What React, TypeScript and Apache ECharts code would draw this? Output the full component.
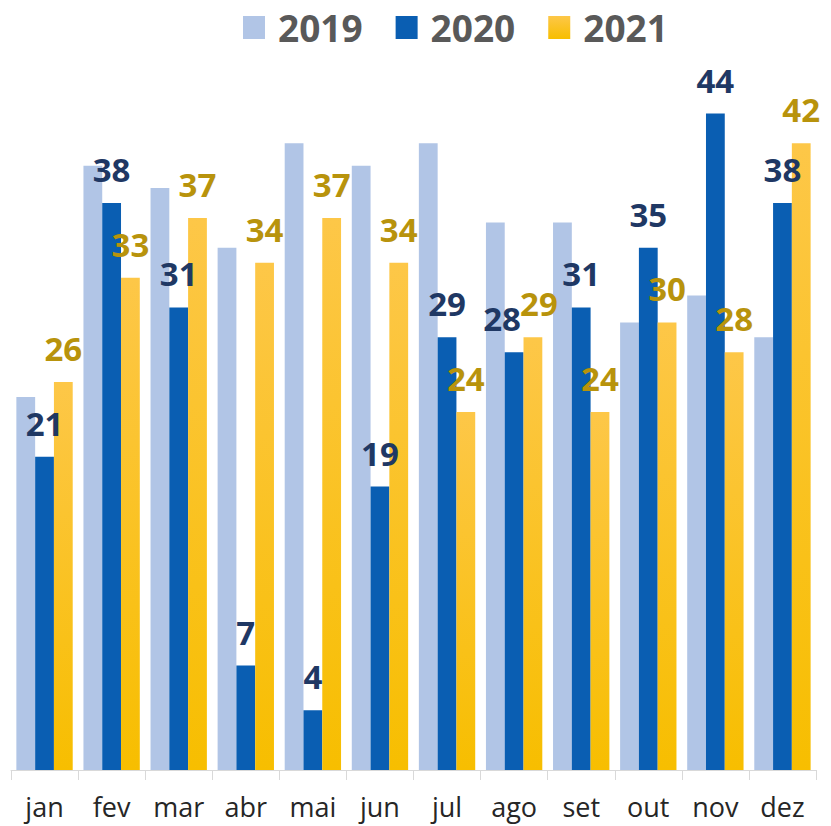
import React, { useEffect, useRef } from "react";
import * as echarts from "echarts";

const months = ["jan", "fev", "mar", "abr", "mai", "jun", "jul", "ago", "set", "out", "nov", "dez"];
const seriesNames = ["2019", "2020", "2021"];
const values2019 = [25, 40.5, 39, 35, 42, 40.5, 42, 36.7, 36.7, 30, 31.8, 29];
const values2020 = [21, 38, 31, 7, 4, 19, 29, 28, 31, 35, 44, 38];
const values2021 = [26, 33, 37, 34, 37, 34, 24, 29, 24, 30, 28, 42];

const FONT = "'Open Sans', 'Noto Sans', sans-serif";

export default function App() {
  const ref = useRef<HTMLDivElement>(null);

  useEffect(() => {
    if (!ref.current) return;
    const chart = echarts.init(ref.current, undefined, { renderer: "svg" });

    const gold = new echarts.graphic.LinearGradient(0, 0, 0, 1, [
      { offset: 0, color: "#FDC748" },
      { offset: 1, color: "#F7BE00" },
    ]);

    const labelStyle = (color: string) => ({
      show: true,
      position: "top" as const,
      distance: 17,
      color,
      fontFamily: FONT,
      fontWeight: "bold" as const,
      fontSize: 33,
    });

    // small manual nudges of a few labels, as in the original
    const data2020 = values2020.map((v, i) =>
      i === 7 ? { value: v, label: { offset: [-12, 0] } } : v
    );
    const data2021 = values2021.map((v, i) =>
      i === 7 ? { value: v, label: { offset: [6, 0] } } : v
    );

    chart.setOption({
      animation: false,
      backgroundColor: "#ffffff",
      legend: {
        data: seriesNames,
        left: 238,
        top: 4,
        itemWidth: 22,
        itemHeight: 23,
        itemGap: 33,
        icon: "rect",
        textStyle: {
          fontFamily: FONT,
          fontWeight: "bold",
          fontSize: 37,
          color: "#595959",
          padding: [0, 0, 0, 8],
        },
      },
      grid: { left: 11, right: 15, top: 24, bottom: 56, containLabel: false },
      xAxis: {
        type: "category",
        data: months,
        axisLine: { show: true, lineStyle: { color: "#D9D9D9", width: 1 } },
        axisTick: { show: true, interval: 0, length: 10, lineStyle: { color: "#D9D9D9" } },
        axisLabel: {
          interval: 0,
          fontFamily: FONT,
          fontSize: 27,
          color: "#262626",
          margin: 23,
        },
      },
      yAxis: {
        type: "value",
        min: 0,
        max: 50,
        show: false,
        splitLine: { show: false },
      },
      series: [
        {
          name: "2019",
          type: "bar",
          data: values2019,
          barGap: "0%",
          barCategoryGap: "16%",
          itemStyle: { color: "#B1C5E6" },
          label: { show: false },
        },
        {
          name: "2020",
          type: "bar",
          data: data2020,
          barGap: "0%",
          barCategoryGap: "16%",
          itemStyle: { color: "#0A5EB2" },
          label: labelStyle("#1F3864"),
        },
        {
          name: "2021",
          type: "bar",
          data: data2021,
          barGap: "0%",
          barCategoryGap: "16%",
          itemStyle: { color: gold },
          label: labelStyle("#B8930C"),
        },
      ],
    });

    return () => chart.dispose();
  }, []);

  return (
    <div
      ref={ref}
      style={{ position: "fixed", left: 0, top: 0, width: 831, height: 826, background: "#fff" }}
    />
  );
}
